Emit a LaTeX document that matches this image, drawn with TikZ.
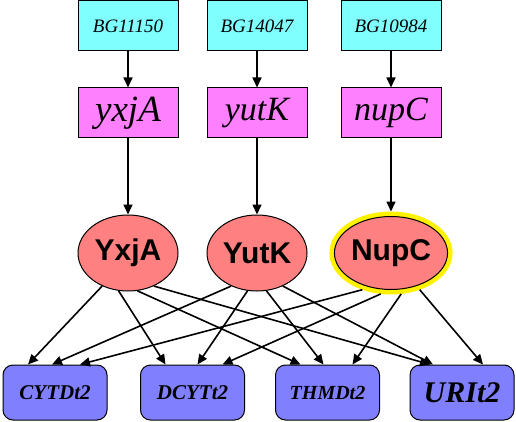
\documentclass[tikz,border=0pt]{standalone}
\usepackage{fontspec}
\setmainfont{Liberation Serif}
\setsansfont{Liberation Sans}
\usepackage{tikz}
\usetikzlibrary{shapes.geometric,arrows.meta,positioning}

\definecolor{bgcyan}{RGB}{128,255,255}
\definecolor{genemag}{RGB}{255,128,255}
\definecolor{protred}{RGB}{255,128,128}
\definecolor{rxnblue}{RGB}{128,128,255}

\begin{document}
\begin{tikzpicture}[
  x=1pt, y=-1pt,
  bgbox/.style={draw, line width=1pt, fill=bgcyan, minimum width=100pt,
                minimum height=50pt, inner sep=0pt, font=\fontsize{19}{19}\selectfont\itshape},
  genebox/.style={draw, line width=1pt, fill=genemag, minimum width=100pt,
                  minimum height=50pt, inner sep=0pt, font=\fontsize{34}{34}\selectfont\itshape},
  prot/.style={draw, ellipse, line width=1pt, fill=protred, minimum width=100pt,
               minimum height=76pt, inner sep=0pt, font=\fontsize{30}{30}\selectfont\sffamily\bfseries},
  rxn/.style={draw, rounded corners=10pt, line width=1pt, fill=rxnblue,
              minimum width=104pt, minimum height=55pt, inner sep=0pt,
              font=\fontsize{21}{21}\selectfont\bfseries\itshape},
  arr/.style={-{Triangle[length=10pt,width=9pt]}, line width=1.6pt}
]
\useasboundingbox (0,0) rectangle (516,422);

% gene ids
\node[bgbox] (bg1) at (128,26) {BG11150};
\node[bgbox] (bg2) at (257,26) {BG14047};
\node[bgbox] (bg3) at (391,26) {BG10984};

% genes
\node[genebox, below=36pt of bg1, font=\fontsize{37}{37}\selectfont\itshape] (yxjag) {yxjA};
\node[genebox, below=36pt of bg2] (yutkg) {yutK};
\node[genebox, below=36pt of bg3] (nupcg) {nupC};

% proteins
\node[prot, below=76pt of yxjag] (yxja) {YxjA};
\node[prot, below=76pt of yutkg] (yutk) {YutK};
\node[prot, below=73pt of nupcg, minimum width=98pt, minimum height=73pt, outer sep=5pt,
      preaction={draw=yellow, line width=10pt}] (nupc) {NupC};

% reactions
\node[rxn] (cytd) at (55,392.5) {CYTDt2};
\node[rxn] (dcyt) at (192.5,392.5) {DCYTt2};
\node[rxn, font=\fontsize{20}{20}\selectfont\bfseries\itshape] (thmd) at (327.5,392.5) {THMDt2};
\node[rxn, font=\fontsize{30}{30}\selectfont\bfseries\itshape] (urit) at (462,392.5) {URIt2};

\foreach \a/\b in {bg1/yxjag, bg2/yutkg, bg3/nupcg, yxjag/yxja, yutkg/yutk, nupcg/nupc}
  \draw[arr] (\a) -- (\b);

\foreach \s/\a/\t/\o in {yxja/232/cytd/-27, yxja/256/dcyt/-27, yxja/284/thmd/-27, yxja/308/urit/-32,
                         yutk/232/cytd/-3,  yutk/256/dcyt/5,   yutk/284/thmd/-4,  yutk/308/urit/-29,
                         nupc/232/cytd/25,  nupc/256/dcyt/30,  nupc/284/thmd/25,  nupc/308/urit/21}
  \draw[arr] (\s.\a) -- ([xshift=\o pt]\t.north);
\end{tikzpicture}
\end{document}
